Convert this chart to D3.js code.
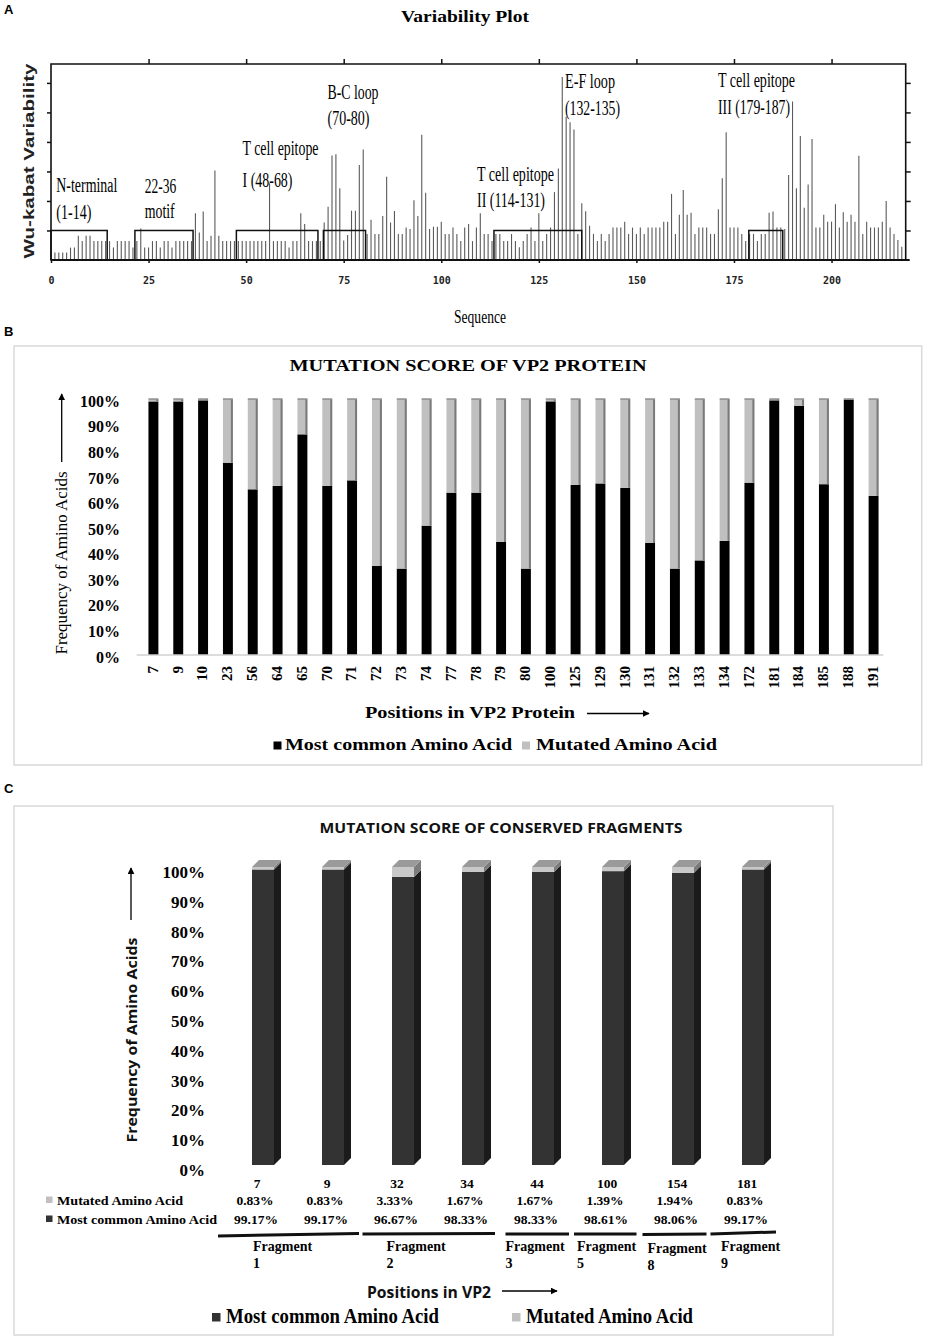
<!DOCTYPE html>
<html>
<head>
<meta charset="utf-8">
<script src="https://cdn.jsdelivr.net/npm/d3@7"></script>
<style>
  body { margin: 0; background: #fff; }
  svg { display: block; }
</style>
</head>
<body>
<svg id="fig" width="925" height="1339"></svg>
<script>
// ---- Panel A: Wu-Kabat variability per residue (in axis-tick units) ----
const variability = [
  0.25,0.25,0.25,0.25,0.42,0.42,0.82,0.64,0.82,0.82,
  0.64,0.64,0.64,0.64,0.64,0.42,0.64,0.64,0.64,0.64,
  0.42,0.64,1.07,0.42,0.42,0.64,0.64,0.42,0.64,0.64,
  0.42,0.64,0.64,0.64,0.64,0.64,1.58,0.93,1.64,0.64,
  0.82,3.03,0.82,0.64,0.64,0.64,0.64,0.64,0.64,0.64,
  0.64,0.64,0.64,0.64,0.64,2.6,0.64,0.64,0.64,0.64,
  0.42,0.64,0.64,1.58,1.22,0.64,0.64,0.64,0.64,1.27,
  1.8,3.54,3.58,2.43,0.66,0.85,1.67,1.67,3.22,3.74,
  0.88,1.36,0.88,0.88,1.49,2.82,1.27,1.66,0.88,0.88,
  1.1,1.05,2.02,1.49,4.24,2.28,1.05,1.13,1.13,1.3,
  0.88,0.88,1.1,0.88,0.64,1.1,1.22,0.64,1.1,1.58,
  0.88,0.88,0.64,0.88,0.88,0.64,0.64,0.88,0.64,0.43,
  0.64,0.88,1.1,0.64,1.58,0.64,0.88,1.1,2.3,3.1,
  6.2,4.85,4.67,4.42,0.88,1.92,1.65,1.16,0.88,0.64,
  0.88,0.64,0.88,1.1,1.1,1.1,1.3,0.88,1.1,0.88,
  1.1,0.88,1.1,1.1,1.1,1.1,1.3,1.3,2.24,0.88,
  1.53,2.37,1.53,1.6,0.88,1.1,1.1,1.1,0.88,0.88,
  1.72,2.77,4.33,1.1,1.1,1.1,0.88,0.64,0.88,0.88,
  0.64,0.88,0.88,1.6,1.64,1.1,1.1,1.05,2.88,5.37,
  2.43,4.2,1.77,2.56,4.1,1.1,1.1,1.53,1.3,1.3,
  1.89,1.1,1.62,1.3,1.53,1.3,3.53,0.88,1.3,1.1,
  1.1,1.1,1.3,2.0,1.1,0.88,0.68,0.45
];
const sequenceTicks = [0, 25, 50, 75, 100, 125, 150, 175, 200];
const regionStart = [0, 21.5, 47.5, 69.8, 113.5, 178.8];
const regionEnd   = [14.4, 36.4, 68.4, 80.6, 136, 187.5];
const regionLines = [
  ['N-terminal', '(1-14)'],
  ['22-36', 'motif'],
  ['T cell epitope', 'I (48-68)'],
  ['B-C loop', '(70-80)'],
  ['T cell epitope', 'II (114-131)'],
  ['E-F loop', '(132-135)'],
  ['T cell epitope', 'III (179-187)']
];

// ---- Panel B: mutation score of VP2 protein ----
const vp2Positions = ['7','9','10','23','56','64','65','70','71','72','73','74','77','78','79',
  '80','100','125','129','130','131','132','133','134','172','181','184','185','188','191'];
const vp2Common = [99.17,99.17,99.6,75.2,64.8,66.1,86.3,66.1,68.3,34.8,33.8,50.6,63.5,63.5,44.2,
  33.8,99.2,66.5,67.1,65.4,43.8,33.8,37.0,44.6,67.4,99.6,97.5,66.8,99.9,62.2];
const vp2Mutated = [0.83,0.83,0.4,24.8,35.2,33.9,13.7,33.9,31.7,65.2,66.2,49.4,36.5,36.5,55.8,
  66.2,0.8,33.5,32.9,34.6,56.2,66.2,63.0,55.4,32.6,0.4,2.5,33.2,0.1,37.8];
const percentTicks = [0,10,20,30,40,50,60,70,80,90,100];

// ---- Panel C: conserved fragments ----
const fragPositions = ['7','9','32','34','44','100','154','181'];
const fragMutated = [0.83, 0.83, 3.33, 1.67, 1.67, 1.39, 1.94, 0.83];
const fragCommon  = [99.17, 99.17, 96.67, 98.33, 98.33, 98.61, 98.06, 99.17];
const fragmentNames = ['1', '2', '3', '5', '8', '9'];

const SERIF = "'Liberation Serif', 'Times New Roman', serif";
const SANS = "'Liberation Sans', Arial, sans-serif";
const OPEN = "'Open Sans', 'Liberation Sans', sans-serif";

const svg = d3.select('#fig');
svg.append('rect').attr('width', 925).attr('height', 1339).attr('fill', '#fff');

const defs = svg.append('defs');
defs.append('marker').attr('id', 'arr').attr('viewBox', '0 0 10 10')
  .attr('refX', 9).attr('refY', 5).attr('markerWidth', 7).attr('markerHeight', 7)
  .attr('markerUnits', 'userSpaceOnUse').attr('orient', 'auto')
  .append('path').attr('d', 'M0,0 L10,5 L0,10 z').attr('fill', '#000');

function label(parent, str, x, y, o = {}) {
  const t = parent.append('text')
    .attr('x', x).attr('y', y).text(str)
    .attr('font-family', o.family || SERIF)
    .attr('font-size', o.size || 14)
    .attr('font-weight', o.weight || 'normal')
    .attr('text-anchor', o.anchor || 'start')
    .attr('fill', o.fill || '#000');
  if (o.len) t.attr('textLength', o.len).attr('lengthAdjust', 'spacingAndGlyphs');
  if (o.rotate) t.attr('transform', `rotate(${o.rotate},${x},${y})`);
  return t;
}

// panel letters
label(svg, 'A', 4, 14, { family: SANS, weight: 'bold', size: 13 });
label(svg, 'B', 4, 336, { family: SANS, weight: 'bold', size: 13 });
label(svg, 'C', 4, 793, { family: SANS, weight: 'bold', size: 13 });

// ================= Panel A =================
const gA = svg.append('g');
const xA = d3.scaleLinear().domain([0, 219]).range([51, 905.7]);
const yA = d3.scaleLinear().domain([0, 6.64]).range([260, 64]);

label(gA, 'Variability Plot', 465, 22, { weight: 'bold', size: 16, anchor: 'middle', len: 128 });
label(gA, 'Wu-kabat Variability', 34, 161, { family: SANS, weight: 'bold', size: 15, anchor: 'middle', len: 195, rotate: -90, fill: '#222' });
label(gA, 'Sequence', 480, 323, { size: 18, anchor: 'middle', len: 52 });

// variability spikes
gA.append('g').selectAll('line')
  .data(variability)
  .join('line')
  .attr('x1', (d, i) => xA(i + 1)).attr('x2', (d, i) => xA(i + 1))
  .attr('y1', yA(0)).attr('y2', d => yA(d))
  .attr('stroke', '#5a5a5a').attr('stroke-width', 1.1);

// frame
gA.append('path')
  .attr('d', `M${xA(0)},${yA(0)} V${yA(6.64)} H${xA(219)} V${yA(0)}`)
  .attr('fill', 'none').attr('stroke', '#111').attr('stroke-width', 1.6);
gA.append('line').attr('x1', xA(0)).attr('x2', xA(219) + 4).attr('y1', yA(0)).attr('y2', yA(0))
  .attr('stroke', '#111').attr('stroke-width', 2);

const noDomain = g => g.select('.domain').remove();
const tickStyle = g => g.selectAll('.tick line').attr('stroke', '#111').attr('stroke-width', 1.5);
gA.append('g').attr('transform', `translate(${xA(0)},0)`)
  .call(d3.axisLeft(yA).tickValues([1, 2, 3, 4, 5, 6]).tickSize(4).tickFormat(''))
  .call(noDomain).call(tickStyle);
gA.append('g').attr('transform', `translate(${xA(219)},0)`)
  .call(d3.axisRight(yA).tickValues([1, 2, 3, 4, 5, 6]).tickSize(5).tickFormat(''))
  .call(noDomain).call(tickStyle);
gA.append('g').attr('transform', `translate(0,${yA(6.64)})`)
  .call(d3.axisTop(xA).tickValues(sequenceTicks.slice(1)).tickSize(5).tickFormat(''))
  .call(noDomain).call(tickStyle);
gA.append('g').attr('transform', `translate(0,${yA(0)})`)
  .call(d3.axisBottom(xA).tickValues(sequenceTicks).tickSize(3).tickPadding(14))
  .call(noDomain).call(tickStyle)
  .call(g => g.selectAll('text').attr('font-family', "'DejaVu Sans Mono', monospace")
    .attr('font-size', 10).attr('font-weight', 'bold').attr('fill', '#222'));

// annotated regions
gA.append('g').selectAll('rect')
  .data(regionStart)
  .join('rect')
  .attr('x', d => xA(d)).attr('y', yA(1))
  .attr('width', (d, i) => xA(regionEnd[i]) - xA(d))
  .attr('height', yA(0) - yA(1))
  .attr('fill', 'none').attr('stroke', '#111').attr('stroke-width', 1.5);

// region captions: [x, baseline1, baseline2, width1, width2]
const captionLayout = [
  [56.3, 192, 219, 61, 35],
  [144.7, 193, 218, 31.6, 30],
  [242.5, 155, 187, 76, 50],
  [327.5, 99, 125, 51, 42],
  [477, 181, 207, 77, 68],
  [565, 88, 115, 50, 55],
  [718, 87, 114, 77, 72]
];
regionLines.forEach((lines, i) => {
  const [x, b1, b2, w1, w2] = captionLayout[i];
  label(gA, lines[0], x, b1, { size: 20, len: w1 });
  label(gA, lines[1], x, b2, { size: 20, len: w2 });
});

// ================= Panel B =================
const gB = svg.append('g');
gB.append('rect').attr('x', 14).attr('y', 346).attr('width', 907.7).attr('height', 419)
  .attr('fill', 'none').attr('stroke', '#d9d9d9').attr('stroke-width', 1.5);

label(gB, 'MUTATION SCORE OF VP2 PROTEIN', 468, 371, { weight: 'bold', size: 16, anchor: 'middle', len: 357 });

const xB = d3.scaleBand().domain(vp2Positions).range([141, 886]).paddingInner(0.6).paddingOuter(0.3);
const yB = d3.scaleLinear().domain([0, 100]).range([655, 399.3]);

const tableB = vp2Positions.map((p, i) => ({ pos: p, common: vp2Common[i], mutated: vp2Mutated[i] }));
const stackB = d3.stack().keys(['common', 'mutated']).offset(d3.stackOffsetExpand)(tableB);
const colorsB = { common: '#000', mutated: '#c0c0c0' };

stackB.forEach(layer => {
  const gl = gB.append('g');
  gl.selectAll('rect.face').data(layer).join('rect')
    .attr('x', d => xB(d.data.pos))
    .attr('y', d => yB(d[1] * 100))
    .attr('width', xB.bandwidth())
    .attr('height', d => yB(d[0] * 100) - yB(d[1] * 100))
    .attr('fill', colorsB[layer.key]);
  if (layer.key === 'mutated') {
    gl.selectAll('rect.edge').data(layer).join('rect')
      .attr('x', d => xB(d.data.pos) + xB.bandwidth() - 2)
      .attr('y', d => yB(d[1] * 100))
      .attr('width', 2)
      .attr('height', d => yB(d[0] * 100) - yB(d[1] * 100))
      .attr('fill', '#7a7a7a');
    gl.selectAll('rect.lip').data(layer).join('rect')
      .attr('x', d => xB(d.data.pos))
      .attr('y', d => yB(d[1] * 100) - 1)
      .attr('width', xB.bandwidth())
      .attr('height', 1.5)
      .attr('fill', '#8a8a8a');
  }
});

gB.append('line').attr('x1', 136.7).attr('x2', 883.3).attr('y1', yB(0)).attr('y2', yB(0))
  .attr('stroke', '#d0d0d0').attr('stroke-width', 1.5);

gB.append('g').selectAll('text').data(percentTicks).join('text')
  .attr('x', 120).attr('y', d => yB(d) + 2).attr('dy', '0.35em')
  .attr('text-anchor', 'end').attr('font-family', SERIF).attr('font-weight', 'bold')
  .attr('font-size', 16).text(d => d + '%');

gB.append('g').selectAll('text').data(vp2Positions).join('text')
  .attr('transform', d => `translate(${xB(d) + xB.bandwidth() / 2 - 1},666) rotate(-90)`)
  .attr('dy', '0.35em').attr('text-anchor', 'end')
  .attr('font-family', SERIF).attr('font-weight', 'bold').attr('font-size', 15).text(d => d);

label(gB, 'Frequency of Amino Acids', 67, 563, { size: 17, anchor: 'middle', len: 183, rotate: -90 });
gB.append('line').attr('x1', 61.7).attr('x2', 61.7).attr('y1', 462).attr('y2', 394)
  .attr('stroke', '#000').attr('stroke-width', 1.3).attr('marker-end', 'url(#arr)');

label(gB, 'Positions in VP2 Protein', 365, 718, { weight: 'bold', size: 17, len: 210 });
gB.append('line').attr('x1', 587).attr('x2', 649).attr('y1', 713.5).attr('y2', 713.5)
  .attr('stroke', '#000').attr('stroke-width', 1.3).attr('marker-end', 'url(#arr)');

gB.append('rect').attr('x', 273.5).attr('y', 741.5).attr('width', 8).attr('height', 8).attr('fill', '#000');
label(gB, 'Most common Amino Acid', 285, 750, { weight: 'bold', size: 17, len: 227 });
gB.append('rect').attr('x', 522).attr('y', 741.5).attr('width', 8).attr('height', 8).attr('fill', '#c0c0c0');
label(gB, 'Mutated Amino Acid', 536, 750, { weight: 'bold', size: 17, len: 181 });

// ================= Panel C =================
const gC = svg.append('g');
gC.append('rect').attr('x', 14).attr('y', 806).attr('width', 819).attr('height', 529)
  .attr('fill', 'none').attr('stroke', '#d9d9d9').attr('stroke-width', 1.5);

label(gC, 'MUTATION SCORE OF CONSERVED FRAGMENTS', 501, 833, { family: OPEN, weight: 'bold', size: 14, anchor: 'middle', len: 363, fill: '#111' });

const xC = d3.scaleBand().domain(fragPositions).range([222, 782]).padding(0);
const yC = d3.scaleLinear().domain([0, 100]).range([1165, 867]);
const barW = 22, dx = 7, dy = 7;
const cx = p => xC(p) + xC.bandwidth() / 2;

gC.append('g').selectAll('text').data(percentTicks).join('text')
  .attr('x', 205).attr('y', d => yC(d) + 5).attr('dy', '0.35em')
  .attr('text-anchor', 'end').attr('font-family', SERIF).attr('font-weight', 'bold')
  .attr('font-size', 17).text(d => d + '%');

const tableC = fragPositions.map((p, i) => ({ pos: p, common: fragCommon[i], mutated: fragMutated[i] }));
const barsC = gC.append('g').selectAll('g').data(tableC).join('g');
const poly = pts => 'M' + pts.map(p => p.join(',')).join('L') + 'Z';
barsC.each(function (d) {
  const g = d3.select(this);
  const x0 = cx(d.pos) - 5;
  const yTop = yC(d.common + d.mutated), yMid = yC(d.common), yBot = yC(0);
  // dark (most common) segment
  g.append('rect').attr('x', x0).attr('y', yMid).attr('width', barW).attr('height', yBot - yMid).attr('fill', '#333');
  g.append('path').attr('d', poly([[x0 + barW, yMid], [x0 + barW + dx, yMid - dy], [x0 + barW + dx, yBot - dy], [x0 + barW, yBot]]))
    .attr('fill', '#1b1b1b');
  // grey (mutated) segment
  g.append('rect').attr('x', x0).attr('y', yTop).attr('width', barW).attr('height', yMid - yTop).attr('fill', '#c8c8c8');
  g.append('path').attr('d', poly([[x0 + barW, yTop], [x0 + barW + dx, yTop - dy], [x0 + barW + dx, yMid - dy], [x0 + barW, yMid]]))
    .attr('fill', '#7c7c7c');
  // top face
  g.append('path').attr('d', poly([[x0, yTop], [x0 + dx, yTop - dy], [x0 + barW + dx, yTop - dy], [x0 + barW, yTop]]))
    .attr('fill', '#9a9a9a');
});

// data table
const tableFont = { weight: 'bold', size: 13.5, anchor: 'middle' };
fragPositions.forEach((p, i) => {
  label(gC, p, cx(p), 1188, tableFont);
  label(gC, fragMutated[i].toFixed(2) + '%', cx(p) - 2, 1205, tableFont);
  label(gC, fragCommon[i].toFixed(2) + '%', cx(p) - 1, 1224, tableFont);
});
gC.append('rect').attr('x', 46).attr('y', 1196.5).attr('width', 6.5).attr('height', 6.5).attr('fill', '#c0c0c0');
label(gC, 'Mutated Amino Acid', 57, 1205, { weight: 'bold', size: 13.5, len: 126 });
gC.append('rect').attr('x', 46).attr('y', 1215.5).attr('width', 6.5).attr('height', 6.5).attr('fill', '#333');
label(gC, 'Most common Amino Acid', 57, 1224, { weight: 'bold', size: 13.5, len: 160 });

// fragment brackets: [x1, y1, x2, y2, textX]
const fragLayout = [
  [218, 1236, 359, 1233.5, 253],
  [362.5, 1234, 495, 1233.5, 386.5],
  [505.5, 1234, 569, 1234, 505.5],
  [574, 1234, 636.5, 1234, 577],
  [642.5, 1234.5, 706.5, 1234, 647.5],
  [710.5, 1234, 776, 1232, 721]
];
fragmentNames.forEach((n, i) => {
  const [x1, y1, x2, y2, tx] = fragLayout[i];
  gC.append('line').attr('x1', x1).attr('y1', y1).attr('x2', x2).attr('y2', y2)
    .attr('stroke', '#111').attr('stroke-width', 3);
  const off = (n === '8') ? 2 : 0;
  label(gC, 'Fragment', tx, 1251 + off, { weight: 'bold', size: 14 });
  label(gC, n, tx, 1268 + off, { weight: 'bold', size: 14 });
});

label(gC, 'Positions in VP2', 367, 1298, { family: OPEN, weight: 'bold', size: 16, len: 124, fill: '#111' });
gC.append('line').attr('x1', 502).attr('x2', 557).attr('y1', 1291).attr('y2', 1291)
  .attr('stroke', '#000').attr('stroke-width', 1.3).attr('marker-end', 'url(#arr)');

label(gC, 'Frequency of Amino Acids', 137, 1040, { family: OPEN, weight: 'bold', size: 15, anchor: 'middle', len: 205, rotate: -90, fill: '#111' });
gC.append('line').attr('x1', 131).attr('x2', 131).attr('y1', 920).attr('y2', 868)
  .attr('stroke', '#000').attr('stroke-width', 1.3).attr('marker-end', 'url(#arr)');

gC.append('rect').attr('x', 212).attr('y', 1313).attr('width', 8.5).attr('height', 8.5).attr('fill', '#333');
label(gC, 'Most common Amino Acid', 226, 1323, { weight: 'bold', size: 20, len: 213 });
gC.append('rect').attr('x', 512).attr('y', 1313).attr('width', 8.5).attr('height', 8.5).attr('fill', '#c0c0c0');
label(gC, 'Mutated Amino Acid', 526, 1323, { weight: 'bold', size: 20, len: 167 });
</script>
</body>
</html>
